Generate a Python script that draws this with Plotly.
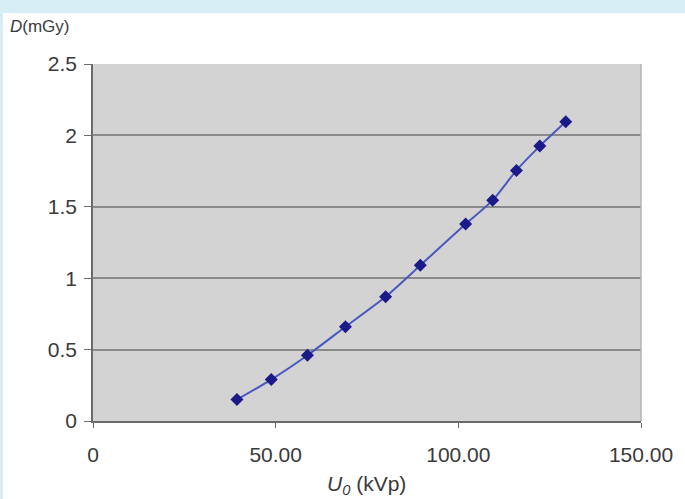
import plotly.graph_objects as go

# Data
u0_kvp = [39.4, 48.8, 58.7, 69.1, 80.1, 89.6, 102.0, 109.4, 115.9, 122.3, 129.4]
dose_mgy = [0.15, 0.29, 0.46, 0.66, 0.87, 1.09, 1.38, 1.545, 1.755, 1.925, 2.095]

x_tickvals = [0, 50, 100, 150]
x_ticktext = ["0", "50.00", "100.00", "150.00"]
y_tickvals = [0, 0.5, 1, 1.5, 2, 2.5]
y_ticktext = ["0", "0.5", "1", "1.5", "2", "2.5"]

W, H = 685, 499
L, R, T, B = 93, 44, 64, 78
pw, ph = W - L - R, H - T - B

def px_x(p):
    return (p - L) / pw

def px_y(p):
    return (H - B - p) / ph

font_color = "#3a3a3a"

fig = go.Figure()
fig.add_trace(go.Scatter(
    x=u0_kvp, y=dose_mgy, mode="lines+markers",
    line=dict(color="#4858c0", width=2, shape="spline", smoothing=0.6),
    marker=dict(symbol="diamond", size=10, color="#1a1a88"),
    showlegend=False,
))

fig.update_layout(
    width=W, height=H,
    margin=dict(l=L, r=R, t=T, b=B),
    paper_bgcolor="white",
    plot_bgcolor="#d3d3d3",
    font=dict(family="Liberation Sans, Arial, sans-serif", size=21, color=font_color),
    xaxis=dict(
        range=[0, 150], tickvals=x_tickvals, ticktext=x_ticktext,
        showgrid=False, zeroline=False,
        showline=True, linecolor="#6a6a6a", linewidth=2,
        ticks="outside", ticklen=5, tickcolor="#6a6a6a", tickwidth=1,
        ticklabelstandoff=9,
    ),
    yaxis=dict(
        range=[0, 2.5], tickvals=y_tickvals, ticktext=y_ticktext,
        showgrid=True, gridcolor="#8a8a8a", gridwidth=1.5, zeroline=False,
        showline=True, linecolor="#6a6a6a", linewidth=1.5,
        ticks="outside", ticklen=7, tickcolor="#6a6a6a", tickwidth=1,
        ticklabelstandoff=3,
    ),
    shapes=[
        # light blue page strips around the white panel
        dict(type="rect", xref="paper", yref="paper",
             x0=px_x(0), x1=px_x(W), y0=px_y(13), y1=px_y(0),
             fillcolor="#d6edf3", line=dict(width=0), layer="below"),
        dict(type="rect", xref="paper", yref="paper",
             x0=px_x(0), x1=px_x(3), y0=px_y(H), y1=px_y(0),
             fillcolor="#d6edf3", line=dict(width=0), layer="below"),
        # right border of plot area
        dict(type="line", xref="paper", yref="paper",
             x0=1, x1=1, y0=0, y1=1,
             line=dict(color="#b4b4b4", width=1.5)),
    ],
    annotations=[
        dict(text="<i>D</i>(mGy)", xref="paper", yref="paper",
             x=px_x(8), y=px_y(27), xanchor="left", yanchor="middle",
             showarrow=False, font=dict(size=17, color=font_color)),
        dict(text="<i>U</i><sub><i>0</i></sub> (kVp)", xref="paper", yref="paper",
             x=px_x(366), y=px_y(485), xanchor="center", yanchor="middle",
             showarrow=False, font=dict(size=21, color=font_color)),
    ],
)

fig.write_html("out.html",
               config={"displayModeBar": False},
               post_script="document.body.style.margin='0px';document.body.style.overflow='hidden';")
